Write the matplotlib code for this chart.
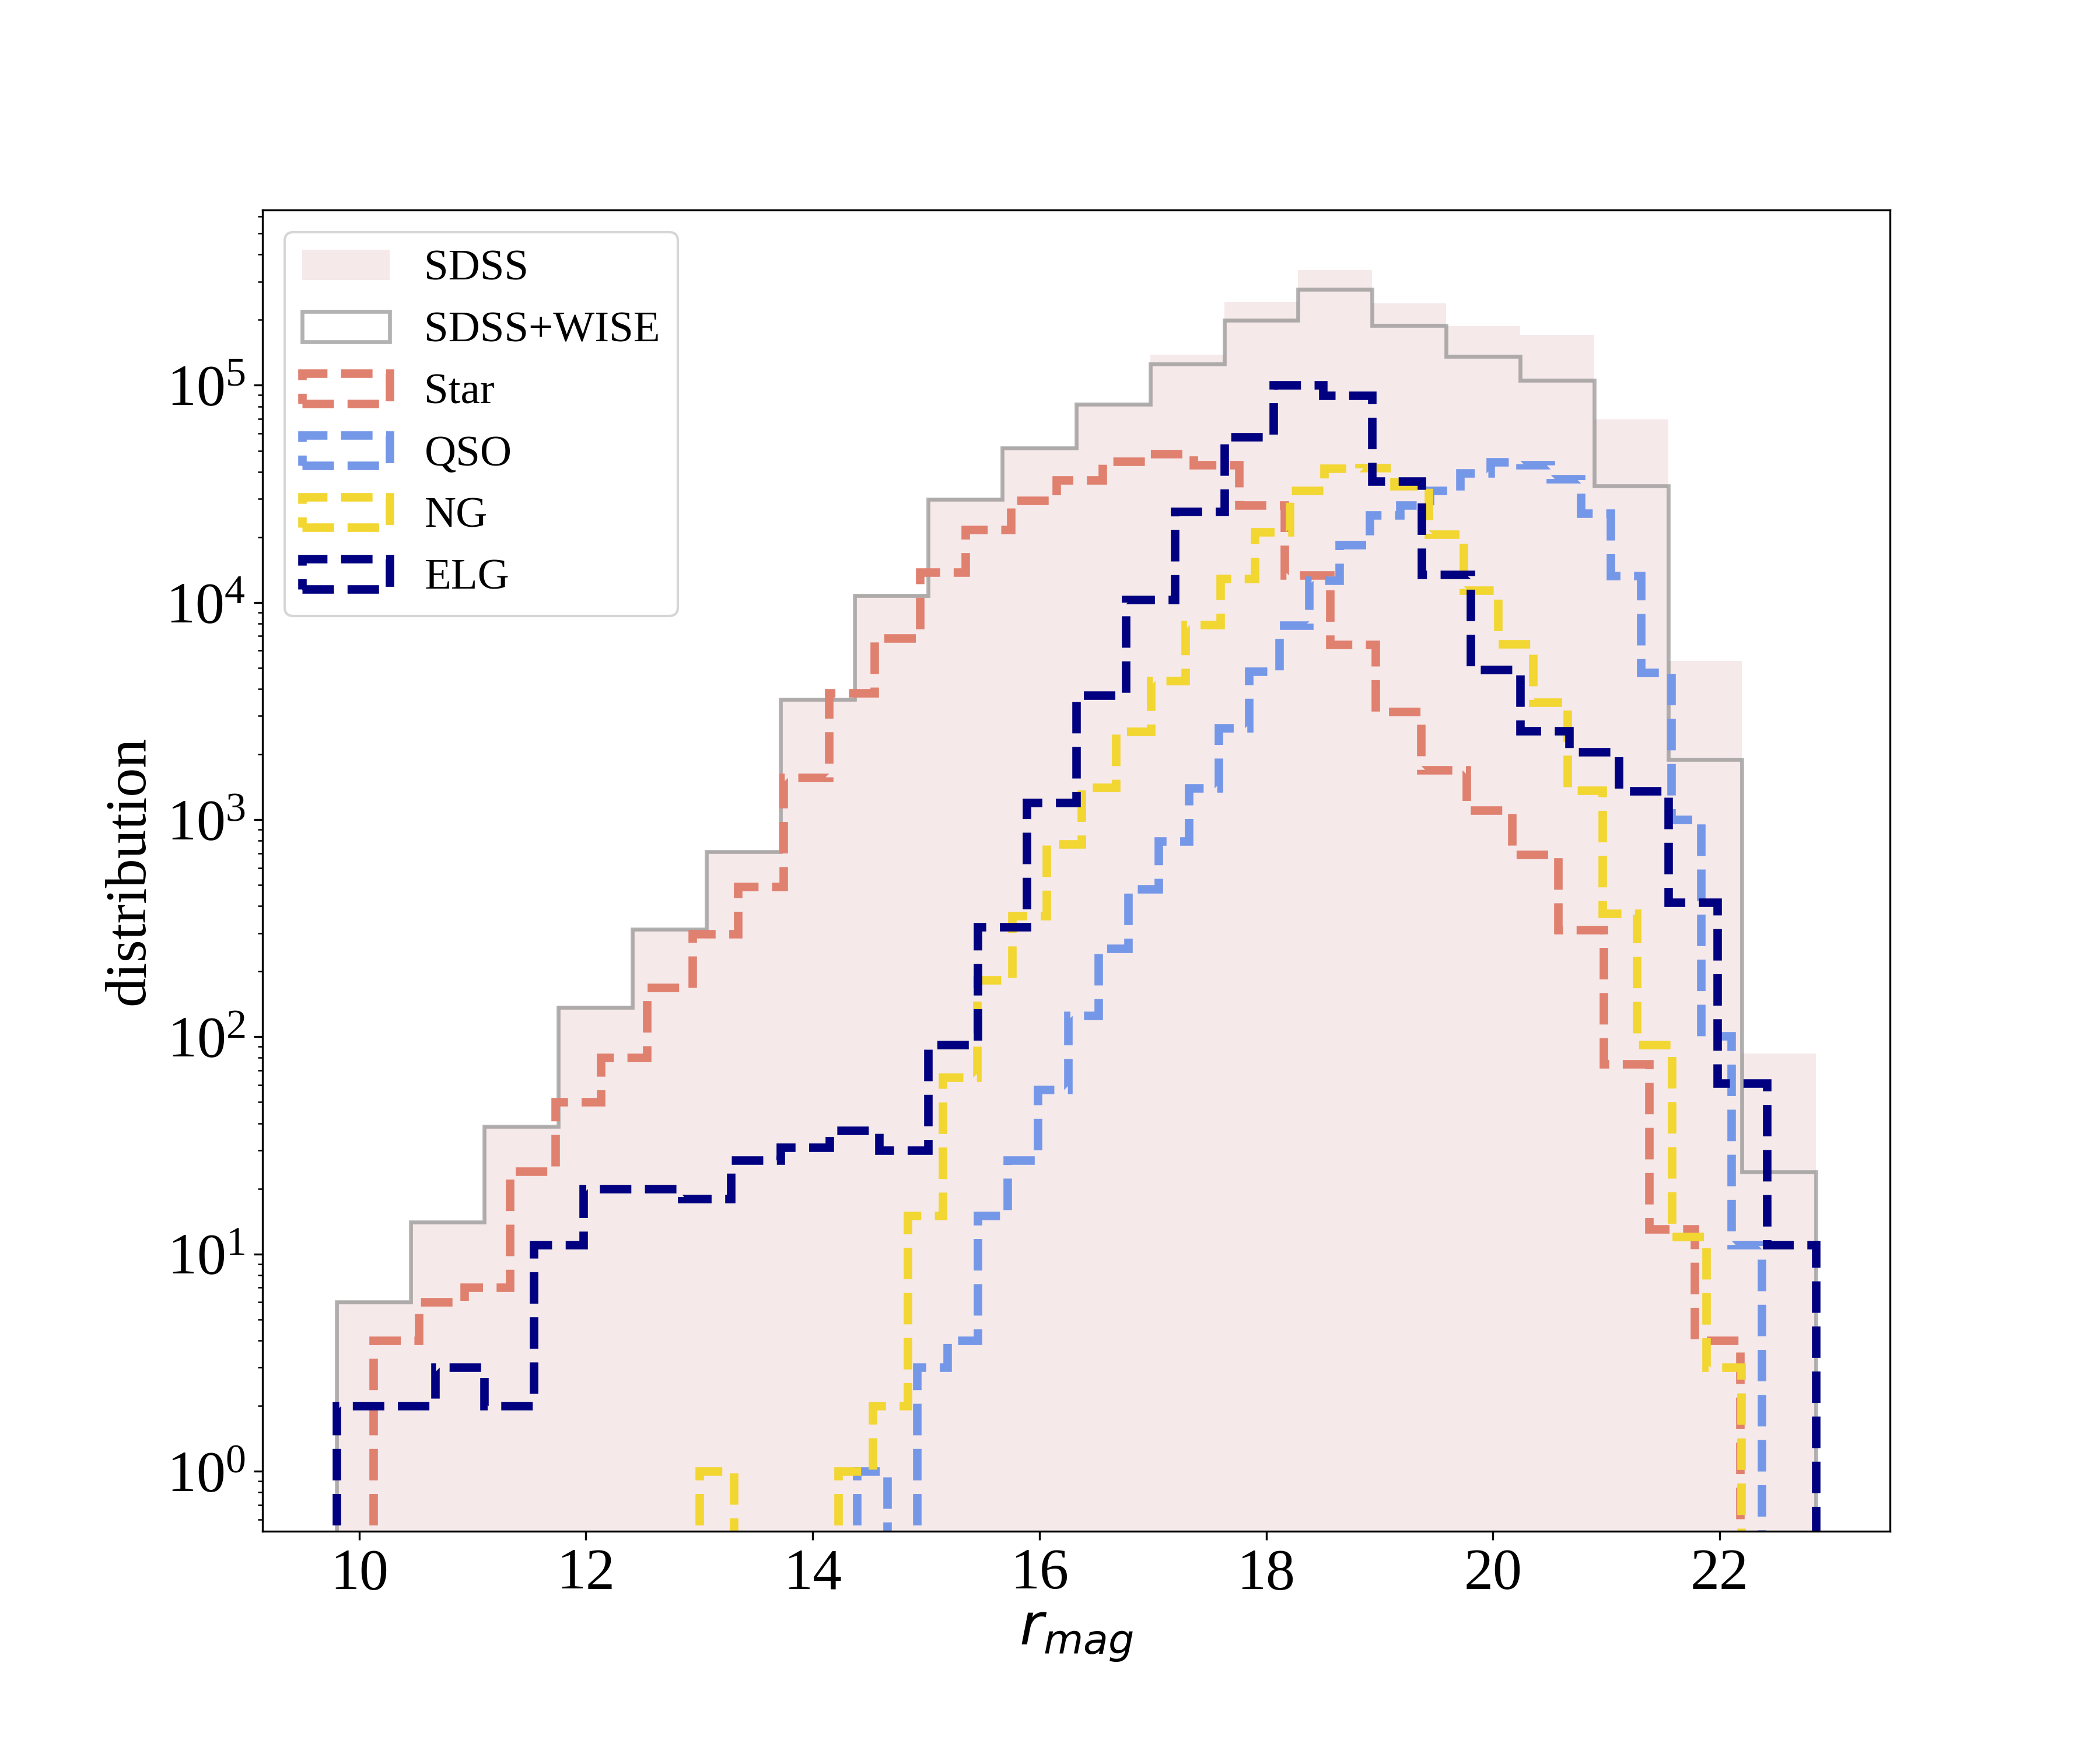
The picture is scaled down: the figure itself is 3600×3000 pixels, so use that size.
import numpy as np
import matplotlib
matplotlib.use("Agg")
import matplotlib.pyplot as plt

plt.rcParams['font.family'] = ['Liberation Serif', 'DejaVu Serif']

# ---- data (bin ranges and counts) ----
sdss_range = (9.8, 22.85)          # 20 bins
sdss_counts = [6.1, 14.1, 39, 139, 315, 718, 3620, 10900, 30200, 52000,
               82500, 138000, 241000, 339000, 239000, 187000, 171000, 69600, 5390, 83.6]
sdss_wise_counts = [6, 14, 38.6, 137, 312, 711, 3580, 10770, 29900, 51400,
                    81600, 125000, 199000, 276000, 188000, 136000, 105500, 34500, 1890, 23.9]

star_range = (10.125, 22.18)       # 30 bins
star_counts = [4, 6, 7, 24, 50, 80, 169, 297, 490, 1565,
               3820, 6860, 13800, 21700, 29400, 36700, 44700, 48400, 43100, 28100,
               13340, 6400, 3140, 1694, 1106, 690, 310, 75, 13, 4]

qso_range = (14.39, 22.37)         # 30 bins
qso_counts = [1, 0, 3, 4, 15, 27, 57, 125, 255, 480,
              798, 1397, 2650, 4800, 7830, 12650, 18400, 25300, 28100, 32700,
              39500, 44200, 43000, 37100, 25800, 13300, 4760, 1000, 101, 11]

ng_range = (13.0, 22.19)           # 30 bins
ng_counts = [1, 0, 0, 0, 1, 2, 15, 65, 183, 360,
             772, 1406, 2540, 4370, 7900, 12900, 21100, 32800, 41300, 41800,
             34300, 20600, 11400, 6440, 3460, 1360, 370, 92, 12, 3]

elg_range = (9.8, 22.85)           # 30 bins
elg_counts = [2, 2, 3, 2, 11, 20, 20, 18, 27, 31,
              37, 30, 92, 320, 1200, 3740, 10300, 26200, 57700, 100000,
              89600, 36100, 13400, 4900, 2560, 2045, 1355, 415, 61, 11]

labels = ['SDSS', 'SDSS+WISE', 'Star', 'QSO', 'NG', 'ELG']
colors = {'SDSS': '#f5e9ea', 'SDSS+WISE': 'gray', 'Star': '#e0806f',
          'QSO': '#7597e8', 'NG': '#f2d631', 'ELG': '#000080'}


def edges_of(rng, counts):
    return np.linspace(rng[0], rng[1], len(counts) + 1)


fig = plt.figure(figsize=(12, 10), dpi=300)
ax = fig.add_axes([0.125, 0.125, 0.775, 0.755])

e = edges_of(sdss_range, sdss_counts)
ax.hist(e[:-1], bins=e, weights=sdss_counts, histtype='stepfilled',
        color=colors['SDSS'], label='SDSS', log=True)
ax.hist(e[:-1], bins=e, weights=sdss_wise_counts, histtype='step',
        color=colors['SDSS+WISE'], alpha=0.6, linewidth=1.6, label='SDSS+WISE', log=True)

for name, rng, cnt in [('Star', star_range, star_counts),
                       ('QSO', qso_range, qso_counts),
                       ('NG', ng_range, ng_counts),
                       ('ELG', elg_range, elg_counts)]:
    ed = edges_of(rng, cnt)
    ax.hist(ed[:-1], bins=ed, weights=cnt, histtype='step', color=colors[name],
            linestyle='--', linewidth=3.5, label=name, log=True)

ax.set_xlim(9.1475, 23.5025)
ax.set_ylim(10 ** -0.2765, 10 ** 5.807)
ax.set_xticks([10, 12, 14, 16, 18, 20, 22])
ax.tick_params(axis='both', which='major', labelsize=24)
ax.set_xlabel('$r_{mag}$', fontsize=24)
ax.set_ylabel('distribution', fontsize=24)
ax.legend(loc='upper left', fontsize=18)

fig.savefig('out.png', dpi=300)
